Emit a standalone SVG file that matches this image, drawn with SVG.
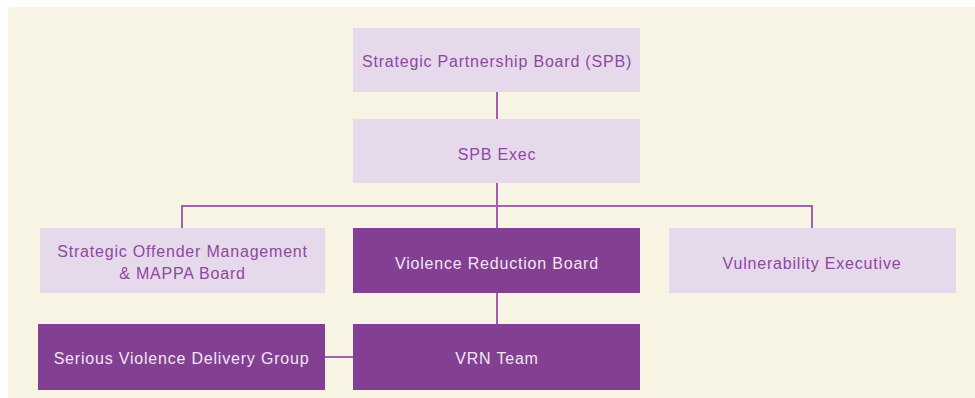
<svg xmlns="http://www.w3.org/2000/svg" width="975" height="398" viewBox="0 0 975 398">
  <style>
    .light { fill: #E6D9EB; }
    .dark { fill: #833F92; }
    .lbl { font-family: "Liberation Sans", Arial, sans-serif; font-size: 16px; text-anchor: middle; dominant-baseline: central; letter-spacing: 0.8px; }
    .on-light { fill: #8E48A0; }
    .on-dark { fill: #F1E6F2; }
    .wire { fill: none; stroke: #A45FB0; stroke-width: 2; }
  </style>
  <rect x="0" y="0" width="975" height="398" fill="#FFFFFF"/>
  <rect x="8" y="7" width="967" height="391" fill="#F8F4E3"/>

  <g id="connectors">
    <line class="wire" x1="497" y1="92" x2="497" y2="119"/>
    <line class="wire" x1="497" y1="183" x2="497" y2="228"/>
    <polyline class="wire" points="182,228 182,206 812,206 812,228"/>
    <line class="wire" x1="497" y1="293" x2="497" y2="324"/>
    <line class="wire" x1="325" y1="357" x2="353" y2="357"/>
  </g>

  <g id="spb">
    <rect class="light" x="353" y="28" width="287" height="64"/>
    <text class="lbl on-light" x="497" y="61">Strategic Partnership Board (SPB)</text>
  </g>
  <g id="spb-exec">
    <rect class="light" x="353" y="119" width="287" height="64"/>
    <text class="lbl on-light" x="497" y="154">SPB Exec</text>
  </g>
  <g id="som-mappa">
    <rect class="light" x="40" y="228" width="285" height="65"/>
    <text class="lbl on-light" x="182.5" y="251">Strategic Offender Management</text>
    <text class="lbl on-light" x="182.5" y="273">&amp; MAPPA Board</text>
  </g>
  <g id="vrb">
    <rect class="dark" x="353" y="228" width="287" height="65"/>
    <text class="lbl on-dark" x="497" y="263">Violence Reduction Board</text>
  </g>
  <g id="vuln-exec">
    <rect class="light" x="669" y="228" width="287" height="65"/>
    <text class="lbl on-light" x="812" y="263">Vulnerability Executive</text>
  </g>
  <g id="svdg">
    <rect class="dark" x="38" y="324" width="287" height="66"/>
    <text class="lbl on-dark" x="181.5" y="358">Serious Violence Delivery Group</text>
  </g>
  <g id="vrn">
    <rect class="dark" x="353" y="324" width="287" height="66"/>
    <text class="lbl on-dark" x="497" y="358">VRN Team</text>
  </g>
</svg>
